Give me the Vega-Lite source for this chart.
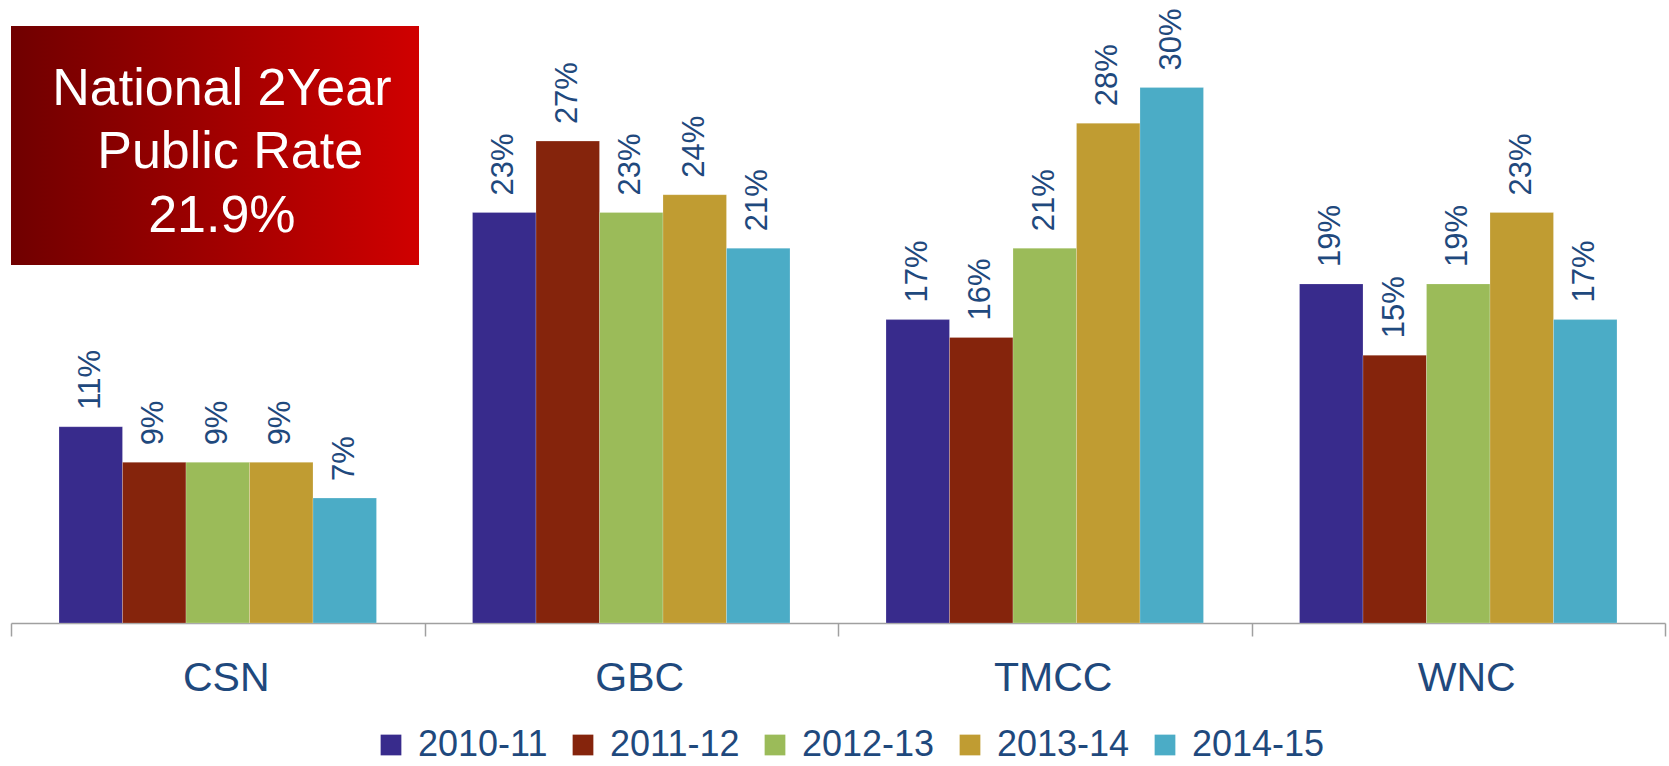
{
  "$schema": "https://vega.github.io/schema/vega-lite/v6.json",
  "width": 1654,
  "height": 597,
  "autosize": "none",
  "padding": {"left": 11, "top": 26, "right": 4, "bottom": 143},
  "config": {"view": {"stroke": null}, "font": "Liberation Sans"},
  "datasets": {
    "rates": [
      {"group": "CSN", "year": "2010-11", "value": 0.11},
      {"group": "CSN", "year": "2011-12", "value": 0.09},
      {"group": "CSN", "year": "2012-13", "value": 0.09},
      {"group": "CSN", "year": "2013-14", "value": 0.09},
      {"group": "CSN", "year": "2014-15", "value": 0.07},
      {"group": "GBC", "year": "2010-11", "value": 0.23},
      {"group": "GBC", "year": "2011-12", "value": 0.27},
      {"group": "GBC", "year": "2012-13", "value": 0.23},
      {"group": "GBC", "year": "2013-14", "value": 0.24},
      {"group": "GBC", "year": "2014-15", "value": 0.21},
      {"group": "TMCC", "year": "2010-11", "value": 0.17},
      {"group": "TMCC", "year": "2011-12", "value": 0.16},
      {"group": "TMCC", "year": "2012-13", "value": 0.21},
      {"group": "TMCC", "year": "2013-14", "value": 0.28},
      {"group": "TMCC", "year": "2014-15", "value": 0.30},
      {"group": "WNC", "year": "2010-11", "value": 0.19},
      {"group": "WNC", "year": "2011-12", "value": 0.15},
      {"group": "WNC", "year": "2012-13", "value": 0.19},
      {"group": "WNC", "year": "2013-14", "value": 0.23},
      {"group": "WNC", "year": "2014-15", "value": 0.17}
    ],
    "box": [{"x0": 0, "x1": 0.9867, "y0": 0.2006, "y1": 0.3345}],
    "boxtext": [
      {"line": "National 2Year", "x": 0.51, "y": 0.2902},
      {"line": "Public Rate", "x": 0.53, "y": 0.2549},
      {"line": "21.9%", "x": 0.51, "y": 0.219}
    ]
  },
  "layer": [
    {
      "data": {"name": "rates"},
      "encoding": {
        "x": {
          "field": "group",
          "type": "nominal",
          "scale": {"paddingInner": 0, "paddingOuter": 0},
          "axis": {
            "title": null,
            "labelAngle": 0,
            "labelFontSize": 41,
            "labelColor": "#1F497D",
            "labelPadding": 22,
            "labelOffset": 8,
            "domainColor": "#A0A0A0",
            "domainWidth": 1.5,
            "tickColor": "#A0A0A0",
            "tickWidth": 1.5,
            "tickSize": 13,
            "tickBand": "extent"
          }
        },
        "xOffset": {"field": "year", "type": "nominal", "scale": {"paddingInner": 0, "paddingOuter": 0.756}},
        "y": {
          "field": "value",
          "type": "quantitative",
          "scale": {"domain": [0, 0.3345], "nice": false, "zero": true},
          "axis": null
        }
      },
      "layer": [
        {
          "mark": {"type": "bar", "stroke": "#ffffff", "strokeWidth": 0.6, "strokeOpacity": 0.35},
          "encoding": {
            "color": {
              "field": "year",
              "type": "nominal",
              "scale": {
                "domain": ["2010-11", "2011-12", "2012-13", "2013-14", "2014-15"],
                "range": ["#382B8C", "#85240C", "#9BBB59", "#C09C32", "#4BACC6"]
              },
              "legend": {
                "title": null,
                "orient": "none",
                "legendX": 362,
                "legendY": 701,
                "direction": "horizontal",
                "symbolType": "square",
                "symbolSize": 430,
                "symbolStrokeWidth": 0,
                "labelFontSize": 36,
                "labelColor": "#1F497D",
                "columnPadding": 17,
                "labelOffset": 9
              }
            }
          }
        },
        {
          "mark": {
            "type": "text",
            "angle": 270,
            "align": "left",
            "baseline": "middle",
            "dx": 17,
            "fontSize": 31,
            "color": "#1F497D"
          },
          "encoding": {
            "text": {"field": "value", "type": "quantitative", "format": ".0%"}
          }
        }
      ]
    },
    {
      "data": {"name": "box"},
      "mark": {
        "type": "rect",
        "fill": {
          "gradient": "linear",
          "x1": 0, "y1": 0, "x2": 1, "y2": 0,
          "stops": [
            {"offset": 0, "color": "#700000"},
            {"offset": 1, "color": "#D00000"}
          ]
        }
      },
      "encoding": {
        "x": {"field": "x0", "type": "quantitative", "scale": {"domain": [0, 4], "nice": false, "zero": false}, "axis": null},
        "x2": {"field": "x1"},
        "y": {"field": "y0", "type": "quantitative", "scale": {"domain": [0, 0.3345], "nice": false, "zero": true}, "axis": null},
        "y2": {"field": "y1"}
      }
    },
    {
      "data": {"name": "boxtext"},
      "mark": {"type": "text", "align": "center", "baseline": "alphabetic", "fontSize": 52, "color": "#ffffff"},
      "encoding": {
        "x": {"field": "x", "type": "quantitative", "scale": {"domain": [0, 4], "nice": false, "zero": false}, "axis": null},
        "y": {"field": "y", "type": "quantitative", "scale": {"domain": [0, 0.3345], "nice": false, "zero": true}, "axis": null},
        "text": {"field": "line"}
      }
    }
  ],
  "resolve": {"scale": {"x": "independent"}}
}
